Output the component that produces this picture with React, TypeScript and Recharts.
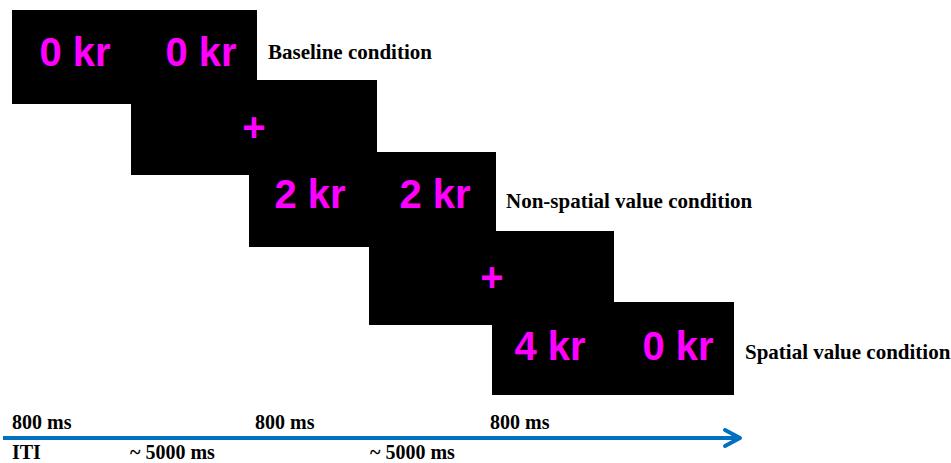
import React from 'react';
import {
  ComposedChart,
  XAxis,
  YAxis,
  ReferenceArea,
  ReferenceLine,
  Scatter
} from 'recharts';

// diagram coordinates (x to the right, y downwards)
const frames = [
  { x1: 12, x2: 257, y1: 10, y2: 104 },
  { x1: 131, x2: 377, y1: 80, y2: 175 },
  { x1: 249, x2: 496, y1: 152, y2: 247 },
  { x1: 369, x2: 614, y1: 231, y2: 325 },
  { x1: 492, x2: 734, y1: 302, y2: 395 }
];

const stimuli = [
  { x: 75, y: 66, label: '0 kr' },
  { x: 201, y: 66, label: '0 kr' },
  { x: 254, y: 141, label: '+' },
  { x: 310, y: 208, label: '2 kr' },
  { x: 435, y: 208, label: '2 kr' },
  { x: 492, y: 291, label: '+' },
  { x: 550, y: 360, label: '4 kr' },
  { x: 678, y: 360, label: '0 kr' }
];

const conditions = [
  { x: 268, y: 59, label: 'Baseline condition' },
  { x: 506, y: 208, label: 'Non-spatial value condition' },
  { x: 745, y: 359, label: 'Spatial value condition' }
];

const durations = [
  { x: 12, y: 429, label: '800 ms' },
  { x: 255, y: 429, label: '800 ms' },
  { x: 490, y: 429, label: '800 ms' }
];

const intervals = [
  { x: 12, y: 459, label: 'ITI' },
  { x: 130, y: 459, label: '~ 5000 ms' },
  { x: 370, y: 459, label: '~ 5000 ms' }
];

const timeline = { start: 3, end: 740, y: 438 };
const arrowTip = [{ x: timeline.end, y: timeline.y }];

const BLUE = '#0070C0';
const MAGENTA = '#FF00FF';

const StimulusText = (props: any) => {
  const { cx, cy, payload } = props;
  return (
    <text
      x={cx}
      y={cy}
      textAnchor="middle"
      fill={MAGENTA}
      fontFamily="'Liberation Sans', Arial, sans-serif"
      fontWeight="bold"
      fontSize={40}
    >
      {payload.label}
    </text>
  );
};

const SerifText = (props: any) => {
  const { cx, cy, payload, size } = props;
  return (
    <text
      x={cx}
      y={cy}
      textAnchor="start"
      fill="#000"
      fontFamily="'Liberation Serif', 'Times New Roman', serif"
      fontWeight="bold"
      fontSize={size}
    >
      {payload.label}
    </text>
  );
};

const ArrowHead = (props: any) => {
  const { cx, cy } = props;
  return (
    <polyline
      points={`${cx - 15},${cy - 8} ${cx},${cy} ${cx - 15},${cy + 8}`}
      fill="none"
      stroke={BLUE}
      strokeWidth={4}
      strokeLinecap="round"
      strokeLinejoin="round"
    />
  );
};

export default function App() {
  return (
    <div style={{ position: 'absolute', left: 0, top: 0, background: '#fff' }}>
      <ComposedChart width={951} height={463} margin={{ top: 0, right: 0, bottom: 0, left: 0 }}>
        <XAxis type="number" dataKey="x" domain={[0, 951]} hide />
        <YAxis type="number" dataKey="y" domain={[0, 463]} reversed hide />

        {frames.map((f, i) => (
          <ReferenceArea
            key={i}
            x1={f.x1}
            x2={f.x2}
            y1={f.y1}
            y2={f.y2}
            fill="#000"
            fillOpacity={1}
            stroke="none"
          />
        ))}

        <ReferenceLine
          segment={[
            { x: timeline.start, y: timeline.y },
            { x: timeline.end - 2, y: timeline.y }
          ]}
          stroke={BLUE}
          strokeWidth={4}
        />

        <Scatter data={stimuli} dataKey="y" shape={<StimulusText />} isAnimationActive={false} />
        <Scatter data={conditions} dataKey="y" shape={<SerifText size={21} />} isAnimationActive={false} />
        <Scatter data={durations} dataKey="y" shape={<SerifText size={20} />} isAnimationActive={false} />
        <Scatter data={intervals} dataKey="y" shape={<SerifText size={20} />} isAnimationActive={false} />
        <Scatter data={arrowTip} dataKey="y" shape={<ArrowHead />} isAnimationActive={false} />
      </ComposedChart>
    </div>
  );
}
